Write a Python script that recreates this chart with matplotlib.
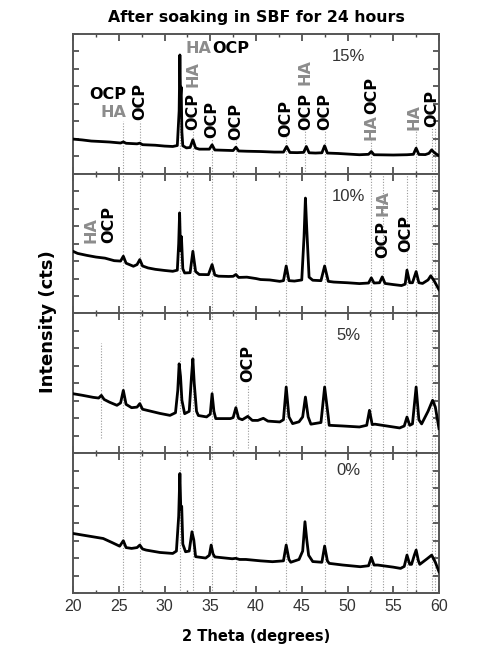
import numpy as np
import matplotlib.pyplot as plt
from matplotlib.ticker import MultipleLocator

plt.rcParams["font.family"] = ["Liberation Sans", "DejaVu Sans"]

# XRD traces, (2theta, intensity in % of panel height)
trace_15 = [
    (20.0, 24.8), (21.0, 24.2), (22.0, 23.4), (22.9, 23.1), (24.0, 22.7), (25.2, 22.0),
    (25.5, 22.8), (25.8, 21.8), (27.0, 21.4), (27.3, 21.9), (27.6, 20.8), (29.0, 20.4),
    (30.0, 19.8), (30.9, 19.5), (31.4, 20.2), (31.6, 45.0), (31.68, 85.0), (31.75, 55.0),
    (31.82, 62.0), (31.9, 30.0), (32.0, 20.0), (32.4, 18.5), (32.8, 18.8), (33.1, 24.3),
    (33.4, 18.4), (33.8, 17.6), (34.9, 17.6), (35.2, 20.7), (35.5, 17.0), (36.5, 16.8),
    (37.5, 16.6), (37.8, 19.0), (38.1, 16.3), (39.0, 16.1), (40.5, 15.9), (42.0, 15.5),
    (43.0, 15.5), (43.35, 19.5), (43.7, 15.2), (44.5, 15.1), (45.2, 15.3), (45.5, 19.5),
    (45.8, 15.0), (46.5, 14.8), (47.2, 15.0), (47.5, 20.0), (47.8, 14.8), (49.0, 14.5),
    (50.0, 14.1), (51.3, 13.6), (52.3, 13.9), (52.6, 15.9), (52.9, 13.6), (54.0, 13.5),
    (55.0, 13.4), (56.5, 13.6), (57.2, 13.9), (57.5, 18.3), (57.8, 13.8), (58.5, 13.7),
    (58.9, 14.6), (59.2, 17.1), (59.5, 15.0), (60.0, 12.9),
]
trace_10 = [
    (20.0, 44.5), (20.5, 43.0), (21.5, 41.6), (22.5, 40.4), (23.5, 39.6), (24.5, 37.8),
    (25.2, 37.5), (25.5, 41.0), (25.8, 36.0), (26.6, 33.8), (27.0, 35.0), (27.3, 38.6),
    (27.6, 34.0), (28.2, 32.6), (29.0, 31.6), (30.0, 30.8), (30.9, 30.2), (31.4, 31.0),
    (31.55, 50.0), (31.65, 72.0), (31.75, 45.0), (31.85, 55.0), (32.0, 32.0), (32.2, 29.0),
    (32.8, 29.2), (33.1, 44.5), (33.4, 30.0), (33.8, 27.9), (34.8, 27.8), (35.2, 35.0),
    (35.5, 27.5), (35.9, 26.7), (37.0, 26.5), (37.5, 26.6), (37.8, 27.9), (38.1, 25.8),
    (39.0, 26.0), (40.0, 25.0), (40.5, 24.3), (41.5, 24.0), (42.6, 23.0), (43.0, 23.5),
    (43.3, 34.0), (43.6, 23.5), (44.2, 23.2), (45.0, 24.0), (45.25, 55.0), (45.4, 82.6),
    (45.55, 60.0), (45.8, 26.0), (46.2, 23.8), (47.1, 23.5), (47.5, 34.0), (47.9, 23.0),
    (48.5, 22.5), (50.0, 22.0), (51.3, 21.4), (52.3, 21.8), (52.6, 25.5), (52.9, 21.8),
    (53.5, 22.0), (53.8, 26.2), (54.1, 21.5), (55.0, 20.7), (55.9, 20.0), (56.3, 21.0),
    (56.5, 31.0), (56.8, 22.0), (57.1, 22.0), (57.5, 30.0), (57.8, 22.0), (58.2, 21.5),
    (58.8, 24.0), (59.1, 27.0), (59.5, 23.0), (60.0, 17.0),
]
trace_5 = [
    (20.0, 42.6), (21.0, 41.5), (22.2, 40.0), (22.8, 39.5), (23.1, 41.4), (23.4, 38.5),
    (24.0, 36.5), (24.8, 34.3), (25.2, 36.0), (25.5, 45.0), (25.8, 35.0), (26.4, 32.6),
    (27.0, 33.0), (27.3, 35.5), (27.6, 31.5), (28.1, 30.7), (29.5, 28.5), (30.6, 27.1),
    (31.2, 29.0), (31.45, 45.0), (31.6, 64.0), (31.75, 55.0), (31.9, 38.0), (32.2, 28.3),
    (32.7, 30.0), (32.95, 55.0), (33.1, 67.6), (33.25, 50.0), (33.5, 30.0), (33.7, 27.0),
    (34.6, 26.0), (35.0, 28.0), (35.2, 42.6), (35.4, 30.0), (35.6, 24.8), (37.2, 24.8),
    (37.5, 25.5), (37.8, 32.6), (38.1, 25.0), (38.5, 24.0), (39.1, 26.4), (39.6, 23.5),
    (40.2, 23.5), (40.8, 25.0), (41.3, 23.0), (42.6, 22.4), (43.0, 24.0), (43.3, 47.4),
    (43.6, 26.0), (44.0, 21.2), (44.7, 22.5), (45.1, 26.0), (45.4, 40.2), (45.7, 26.0),
    (46.0, 20.8), (47.1, 22.0), (47.5, 47.4), (47.9, 26.0), (48.0, 20.0), (49.5, 19.5),
    (51.3, 18.8), (52.1, 20.0), (52.4, 30.7), (52.7, 20.5), (53.0, 20.8), (54.3, 19.5),
    (55.7, 18.1), (56.2, 19.5), (56.5, 25.9), (56.8, 20.0), (57.1, 21.0), (57.5, 47.4),
    (57.8, 24.0), (58.1, 21.0), (58.8, 30.0), (59.3, 37.9), (59.6, 33.0), (60.0, 17.6),
]
trace_0 = [
    (20.0, 42.6), (21.0, 41.5), (22.2, 40.2), (23.3, 39.0), (24.3, 36.0), (25.1, 33.5),
    (25.5, 37.4), (25.8, 32.5), (26.4, 31.9), (27.0, 32.5), (27.3, 34.3), (27.6, 31.5),
    (28.0, 30.7), (29.5, 29.0), (30.9, 28.3), (31.3, 30.0), (31.55, 55.0), (31.68, 85.5),
    (31.78, 60.0), (31.88, 62.0), (32.0, 35.0), (32.3, 29.5), (32.7, 30.0), (33.0, 43.8),
    (33.2, 38.0), (33.4, 26.0), (34.5, 25.0), (34.9, 27.0), (35.1, 34.3), (35.3, 28.0),
    (35.5, 25.8), (37.4, 24.5), (37.8, 24.8), (38.2, 24.0), (38.9, 24.0), (40.5, 23.0),
    (41.8, 22.4), (43.0, 23.0), (43.3, 34.3), (43.6, 24.0), (43.8, 22.0), (44.7, 24.0),
    (45.1, 30.0), (45.35, 51.0), (45.55, 38.0), (45.75, 27.0), (46.2, 22.5), (47.2, 22.0),
    (47.5, 33.6), (47.8, 23.0), (48.0, 21.2), (49.5, 20.0), (51.4, 18.8), (52.3, 19.5),
    (52.6, 25.5), (52.9, 20.0), (53.3, 20.0), (55.0, 18.5), (55.8, 17.6), (56.2, 19.0),
    (56.5, 27.1), (56.8, 20.5), (57.0, 20.5), (57.3, 27.0), (57.5, 30.7), (57.75, 23.0),
    (57.9, 20.5), (58.7, 24.5), (59.2, 27.1), (59.6, 22.0), (60.0, 15.2),
]
panel_names = ["15%", "10%", "5%", "0%"]
traces = [trace_15, trace_10, trace_5, trace_0]

# reference peak positions (dotted lines)
ref_lines = [25.5, 27.3, 31.7, 33.1, 35.2, 37.8, 43.3, 47.5, 52.6, 53.9, 56.5, 57.5, 59.2, 59.6]
top_lines = [25.5, 27.3, 31.7, 33.1, 35.2, 37.8, 43.3, 45.4, 47.5, 52.6, 57.5, 59.2, 59.6]
top_line_tops = [38, 38, 83, 31, 25, 24, 26, 31, 31, 24, 31, 33, 33]

GRAY = "#8c8c8c"
LINE_GRAY = "#9a9a9a"
DOT = (0, (1, 1.5))

fig, axes = plt.subplots(4, 1, figsize=(4.88, 6.5), dpi=100, sharex=True)
fig.subplots_adjust(left=0.1496, right=0.8996, bottom=0.0877, top=0.9477, hspace=0)

for i, ax in enumerate(axes):
    xy = np.array(traces[i])
    ax.set_xlim(20, 60)
    ax.set_ylim(0, 100)
    if i == 0:
        for x, top in zip(top_lines, top_line_tops):
            ax.plot([x, x], [0, top], ls=DOT, lw=0.8, color=LINE_GRAY, zorder=1)
    else:
        for x in ref_lines:
            ax.axvline(x, ls=DOT, lw=0.8, color=LINE_GRAY, zorder=1)
    ax.plot(xy[:, 0], xy[:, 1], color="black", lw=2.0, zorder=3)

    ax.xaxis.set_major_locator(MultipleLocator(5))
    ax.xaxis.set_minor_locator(MultipleLocator(2.5))
    ax.yaxis.set_major_locator(MultipleLocator(12.5))
    ax.tick_params(which="both", direction="in", top=True, right=True, color="#444444")
    ax.tick_params(which="major", length=5, width=1.2)
    ax.tick_params(which="minor", length=2.5, width=1.0)
    ax.tick_params(axis="y", which="major", length=4)
    ax.set_yticklabels([])
    for sp in ax.spines.values():
        sp.set_linewidth(1.4)
        sp.set_color("#555555")
    ax.text(50.1, 84 if i != 3 else 88, panel_names[i], ha="center", va="center",
            fontsize=12, color="#333333")

axes[-1].tick_params(axis="x", labelsize=11.5, labelcolor="#333333", pad=4)

kw = dict(fontsize=11.5, fontweight="bold", family="DejaVu Sans")
# 15 % panel labels
a = axes[0]
a.text(23.8, 56.4, "OCP", ha="center", va="center", color="black", **kw)
a.text(24.4, 43.6, "HA", ha="center", va="center", color=GRAY, **kw)
a.text(35.1, 89.3, "HA", ha="right", va="center", color=GRAY, **kw)
a.text(35.2, 89.3, "OCP", ha="left", va="center", color="black", **kw)
for x, y0, txt, col in [
    (27.3, 38.6, "OCP", "black"), (33.1, 31.4, "OCP", "black"), (33.1, 62.0, "HA", GRAY),
    (35.2, 25.7, "OCP", "black"), (37.8, 24.3, "OCP", "black"), (43.3, 26.4, "OCP", "black"),
    (45.4, 31.4, "OCP", "black"), (45.4, 63.6, "HA", GRAY), (47.5, 31.4, "OCP", "black"),
    (52.6, 24.3, "HA", GRAY), (52.6, 43.0, "OCP", "black"), (57.3, 31.4, "HA", GRAY),
    (59.25, 33.6, "OCP", "black"),
]:
    a.text(x, y0, txt, rotation=90, ha="center", va="bottom", color=col, **kw)

# 10 % panel labels
a = axes[1]
for x, y0, txt, col in [
    (21.95, 50.7, "HA", GRAY), (23.9, 50.7, "OCP", "black"),
    (53.9, 40.0, "OCP", "black"), (53.9, 69.5, "HA", GRAY), (56.4, 44.3, "OCP", "black"),
]:
    a.text(x, y0, txt, rotation=90, ha="center", va="bottom", color=col, **kw)

# 5 % panel
a = axes[2]
a.text(39.1, 50.7, "OCP", rotation=90, ha="center", va="bottom", color="black", **kw)
a.plot([23.1, 23.1], [10.7, 78.6], ls=DOT, lw=0.8, color=LINE_GRAY, zorder=1)
a.plot([39.1, 39.1], [3.6, 48.6], ls=DOT, lw=0.8, color=LINE_GRAY, zorder=1)

fig.text(256 / 488, 1 - 17.5 / 650, "After soaking in SBF for 24 hours",
         ha="center", va="center", fontsize=11.3, fontweight="bold", family="DejaVu Sans")
fig.text(48 / 488, 1 - 322 / 650, "Intensity (cts)", rotation=90,
         ha="center", va="center", fontsize=13, fontweight="bold", family="DejaVu Sans")
fig.text(256 / 488, 1 - 637 / 650, "2 Theta (degrees)",
         ha="center", va="center", fontsize=10.5, fontweight="bold", family="DejaVu Sans")

fig.savefig("out.png", dpi=100)
